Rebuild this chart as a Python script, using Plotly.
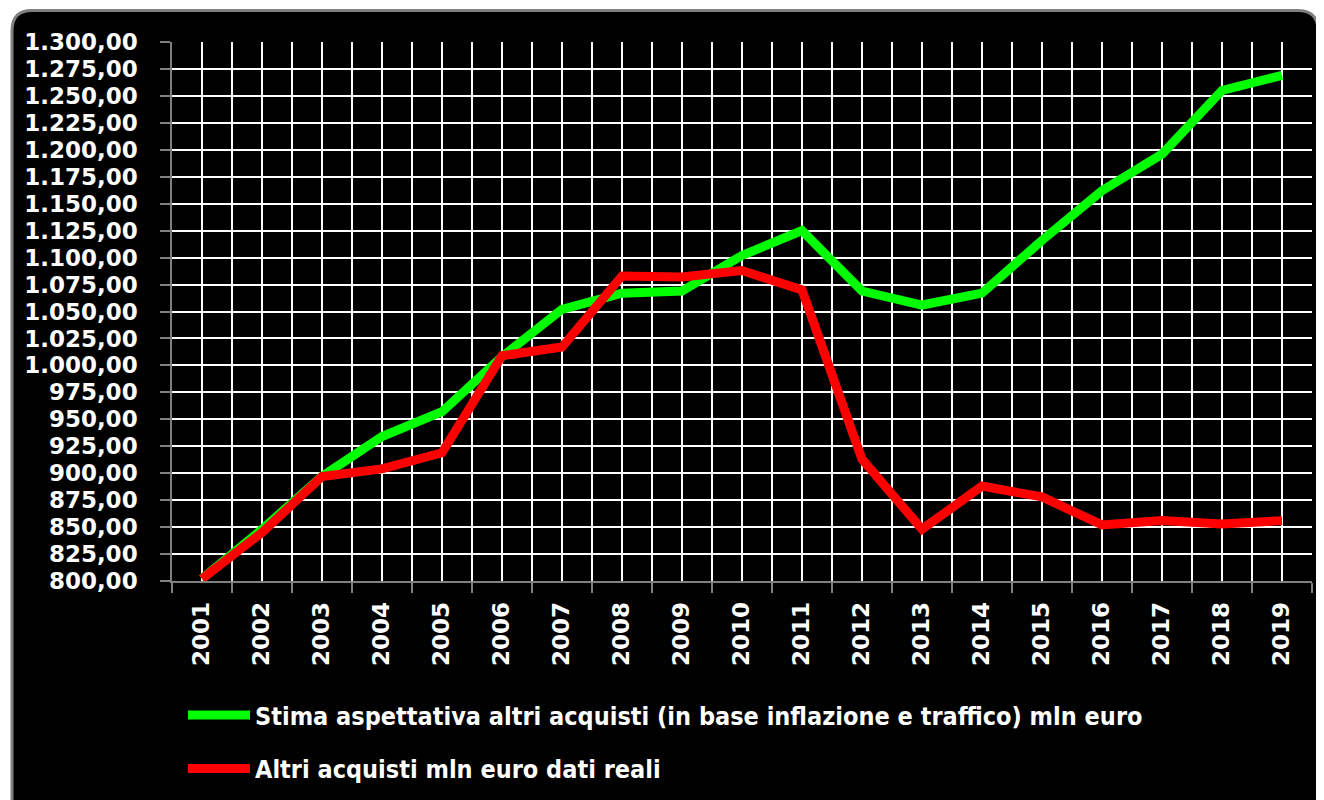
import plotly.graph_objects as go

years = list(range(2001, 2020))
stima = [802, 848, 897, 934, 957, 1008, 1052, 1067, 1069, 1102, 1125,
         1069, 1056, 1067, 1116, 1162, 1196, 1255, 1269]
reali = [802, 845, 897, 904, 919, 1009, 1017, 1083, 1082, 1088, 1070,
         913, 848, 888, 878, 852, 856, 853, 856]
name_stima = "Stima aspettativa altri acquisti (in base inflazione e traffico) mln euro"
name_reali = "Altri acquisti mln euro dati reali"

OFF = 8  # page body margin
W, H = 1324 - OFF, 800 - OFF
PL, PR, PT, PB = 172, 1312, 41.5, 581.5  # plot area in window pixels
L, T = PL - OFF, PT - OFF
R, B = W - (PR - OFF), H - (PB - OFF)
pw, ph = PR - PL, PB - PT

def px(x):
    return (x - PL) / pw

def py(y):
    return (PB - y) / ph

fig = go.Figure()
fig.add_trace(go.Scatter(x=years, y=stima, mode="lines", name=name_stima,
                         line=dict(color="#00FF00", width=9), legendgroup="a"))
fig.add_trace(go.Scatter(x=years, y=reali, mode="lines", name=name_reali,
                         line=dict(color="#FF0000", width=9), legendgroup="b"))

# rounded black frame
x0, x1, y0, y1 = px(12), px(1318), py(10), py(810)
rx, ry = 20 / pw, 20 / ph
path = (f"M {x0},{y0 - ry} Q {x0},{y0} {x0 + rx},{y0} L {x1 - rx},{y0} "
        f"Q {x1},{y0} {x1},{y0 - ry} L {x1},{y1} L {x0},{y1} Z")
fig.add_shape(type="path", path=path, xref="paper", yref="paper",
              fillcolor="black", line=dict(color="#808080", width=3), layer="below")

tickfont = dict(family="DejaVu Sans", size=23, color="white", weight="bold")
fig.update_layout(
    width=W, height=H,
    margin=dict(l=L, r=R, t=T, b=B, autoexpand=False),
    paper_bgcolor="white", plot_bgcolor="black",
    separators=",.",
    showlegend=True,
    legend=dict(x=px(183), y=py(693), xanchor="left", yanchor="top",
                orientation="v", tracegroupgap=18, itemwidth=62,
                font=dict(family="DejaVu Sans Condensed, Open Sans", size=25,
                          color="white", weight="bold"),
                bgcolor="rgba(0,0,0,0)"),
    xaxis=dict(range=[2000.5, 2019.5], tickmode="array", tickvals=years,
               ticktext=[str(y) for y in years], tickangle=-90, tickfont=tickfont,
               ticklabelstandoff=10, automargin=False,
               showgrid=True, gridcolor="white", gridwidth=1.5, ticks="",
               showline=True, linecolor="#808080", linewidth=1.5, zeroline=False,
               minor=dict(tick0=2000.5, dtick=1, showgrid=True, gridcolor="white",
                          gridwidth=1.5, ticks="outside", ticklen=10, tickcolor="#808080",
                          tickwidth=1.5)),
    yaxis=dict(range=[800, 1300], dtick=25, tickformat=",.2f", tickfont=tickfont,
               ticklabelstandoff=18, automargin=False,
               showgrid=True, gridcolor="white", gridwidth=1.5,
               ticks="outside", ticklen=10, tickcolor="#808080", tickwidth=1.5,
               showline=True, linecolor="#808080", linewidth=1.5, zeroline=False),
)

fig.write_html("out.html")
